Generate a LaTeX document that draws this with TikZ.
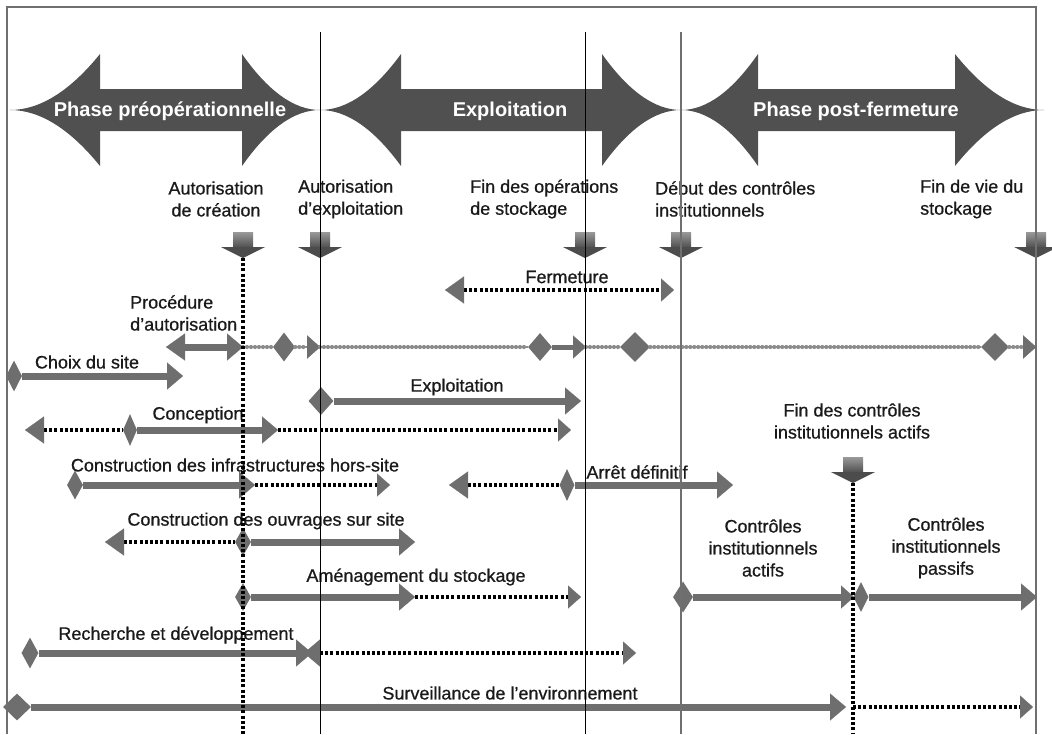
\documentclass[tikz,border=0pt]{standalone}
\usepackage{fontspec}
\setmainfont{Liberation Sans}
\newfontfamily\lblfont{Liberation Sans}[FakeBold=0.7]
\usetikzlibrary{arrows.meta,shapes.geometric}

\definecolor{phasegray}{HTML}{505050}
\definecolor{bargray}{HTML}{6E6E6E}
\definecolor{beadgray}{HTML}{8C8C8C}
\definecolor{framegray}{HTML}{707070}
\definecolor{msgray}{HTML}{4C4C4C}
\definecolor{mstop}{HTML}{9A9A9A}
\definecolor{txtgray}{HTML}{1A1A1A}

\tikzset{
  bt/.tip={Triangle[length=16pt,width=27pt,color=bargray,line width=0.1pt]},
  lt/.tip={Triangle[length=19pt,width=27pt,color=bargray,line width=0.1pt]},
  st/.tip={Triangle[length=13pt,width=23pt,color=bargray,line width=0.1pt]},
  bar/.style={draw=bargray, line width=7pt},
  dotline/.style={draw=black, line width=3.2pt, dash pattern=on 3pt off 2.2pt},
  beadline/.style={draw=beadgray, line width=1.8pt,
    postaction={draw=beadgray, line width=4.2pt, line cap=round, dash pattern=on 0pt off 4pt}},
  dmd/.style={diamond, fill=bargray, inner sep=0pt, minimum width=16pt, minimum height=30pt},
  lbl/.style={inner sep=0pt, text=txtgray, font=\lblfont\fontsize{18}{22}\selectfont},
  phase/.style={inner sep=0pt, text=white, font=\bfseries\fontsize{20}{24}\selectfont},
  vline/.style={draw=black, line width=1pt},
  gline/.style={draw=framegray, line width=1.8pt},
  dline/.style={draw=black, line width=3.2pt, dash pattern=on 3pt off 2.2pt},
  milestone/.pic={
    \shade[top color=mstop, bottom color=msgray] (-10,-26) rectangle (10,-10);
    \fill[msgray] (-22,-11) -- (22,-11) -- (0,0) -- cycle;
  }
}

% double arrow with flared heads: left tip, left base, right base, right tip
\newcommand{\phasearrow}[4]{%
  \fill[phasegray] (#1,110)
    .. controls ({#1+(#2-#1)/3},110) and ({#2-(#2-#1)/3},91) .. (#2,54)
    -- (#2,89) -- (#3,89) -- (#3,54)
    .. controls ({#3+(#4-#3)/3},91) and ({#4-(#4-#3)/3},110) .. (#4,110)
    .. controls ({#4-(#4-#3)/3},110) and ({#3+(#4-#3)/3},129) .. (#3,166)
    -- (#3,131) -- (#2,131) -- (#2,166)
    .. controls ({#2-(#2-#1)/3},129) and ({#1+(#2-#1)/3},110) .. cycle;}

\begin{document}
\begin{tikzpicture}[x=1pt, y=-1pt]
    \useasboundingbox (0,0) rectangle (1052,734);

    % Phases
    \phasearrow{10}{100}{242}{320}
    \phasearrow{320}{401}{602}{681}
    \phasearrow{681}{758}{955}{1044}
    \node[phase] (ph1) at (170,111) {Phase préopérationnelle};
    \node[phase] (ph2) at (510,111) {Exploitation};
    \node[phase] (ph3) at (856,111) {Phase post-fermeture};

    % Milestones
    \coordinate (m1) at (243,258);
    \coordinate (m2) at (320,258);
    \coordinate (m3) at (585,258);
    \coordinate (m4) at (681,258);
    \coordinate (m5) at (1036,258);
    \coordinate (m6) at (853,483);
    \foreach \m in {m1,m2,m3,m4,m5,m6} \pic at (\m) {milestone};
    \node[lbl, align=center] (l1) at (216,199) {Autorisation\\de création};
    \node[lbl, align=left, anchor=west] (l2) at (298,199) {Autorisation\\d’exploitation};
    \node[lbl, align=left, anchor=west] (l3) at (470,199) {Fin des opérations\\de stockage};
    \node[lbl, align=left, anchor=west] (l4) at (655,199) {Début des contrôles\\institutionnels};
    \node[lbl, align=left, anchor=west] (l5) at (920,199) {Fin de vie du\\stockage};
    \node[lbl, align=center] (l6) at (852,421) {Fin des contrôles\\institutionnels actifs};

    % Fermeture
    \coordinate (fe0) at (445,290);
    \coordinate (fe1) at (674,290);
    \draw[dotline, lt-st] (fe0) -- (fe1);
    \node[lbl] (fe) at (567,277) {Fermeture};

    % Procedure d'autorisation
    \coordinate (pa0) at (166,347);
    \coordinate (pa1) at (243,347);
    \coordinate (pa2) at (320,347);
    \coordinate (pa4) at (586,347);
    \coordinate (pa6) at (1036,347);
    \node[dmd, minimum width=22pt, minimum height=29pt] (pd1) at (284,347) {};
    \node[dmd, minimum width=24pt, minimum height=28pt] (pd2) at (540,347) {};
    \node[dmd, minimum width=30pt, minimum height=30pt] (pd3) at (635,347) {};
    \node[dmd, minimum width=28pt, minimum height=28pt] (pd4) at (995,347) {};
    \draw[bar, lt-bt] (pa0) -- (pa1);
    \draw[beadline] (pa1) -- (pd1);
    \draw[beadline, -st] (pd1) -- (pa2);
    \draw[beadline] (pa2) -- (pd2);
    \draw[bar, line width=5pt, -st] (pd2) -- (pa4);
    \draw[beadline] (pa4) -- (pd3);
    \draw[beadline] (pd3) -- (pd4);
    \draw[beadline, -st] (pd4) -- (pa6);
    \node[lbl, align=left, anchor=west] (pa) at (130,313) {Procédure\\d’autorisation};

    % Choix du site
    \node[dmd, minimum height=31pt] (cs0) at (14,376) {};
    \coordinate (cs1) at (183,376);
    \draw[bar, -bt] (cs0) -- (cs1);
    \node[lbl] (cs) at (87,362) {Choix du site};

    % Exploitation
    \node[dmd, minimum width=25pt, minimum height=28pt] (ex0) at (321,401) {};
    \coordinate (ex1) at (581,401);
    \draw[bar, -bt] (ex0) -- (ex1);
    \node[lbl] (ex) at (457,387) {Exploitation};

    % Conception
    \coordinate (cn0) at (25,430);
    \node[dmd, minimum width=14pt, minimum height=32pt] (cnd) at (130,430) {};
    \coordinate (cn1) at (278,430);
    \coordinate (cn2) at (571,430);
    \draw[dotline, lt-] (cn0) -- (cnd);
    \draw[bar, -bt] (cnd) -- (cn1);
    \draw[dotline, -st] (cn1) -- (cn2);
    \node[lbl] (cn) at (198,415) {Conception};

    % Construction des infrastructures hors-site
    \node[dmd, minimum height=29pt] (ci0) at (75,485) {};
    \coordinate (ci1) at (255,485);
    \coordinate (ci2) at (390,485);
    \draw[bar, -bt] (ci0) -- (ci1);
    \draw[dotline, -st] (ci1) -- (ci2);
    \node[lbl] (ci) at (235,465) {Construction des infrastructures hors-site};

    % Arret definitif
    \coordinate (ar0) at (449,485);
    \node[dmd, minimum width=15pt, minimum height=32pt] (ard) at (567,485) {};
    \coordinate (ar1) at (733,485);
    \draw[dotline, lt-] (ar0) -- (ard);
    \draw[bar, -bt] (ard) -- (ar1);
    \node[lbl] (ar) at (637,472) {Arrêt définitif};

    % Construction des ouvrages sur site
    \coordinate (co0) at (105,542);
    \node[dmd, minimum height=28pt] (cod) at (243,542) {};
    \coordinate (co1) at (415,542);
    \draw[dotline, lt-] (co0) -- (cod);
    \draw[bar, -bt] (cod) -- (co1);
    \node[lbl] (co) at (266,521) {Construction des ouvrages sur site};

    % Amenagement du stockage
    \node[dmd, minimum height=28pt] (am0) at (243,597) {};
    \coordinate (am1) at (415,597);
    \coordinate (am2) at (581,597);
    \draw[bar, -bt] (am0) -- (am1);
    \draw[dotline, -st] (am1) -- (am2);
    \node[lbl] (am) at (416,577) {Aménagement du stockage};

    % Controles institutionnels
    \node[dmd, minimum width=20pt, minimum height=31pt] (ca0) at (683,597) {};
    \coordinate (ca1) at (854,597);
    \node[dmd, minimum width=15pt, minimum height=30pt] (cp0) at (861,597) {};
    \coordinate (cp1) at (1037,597);
    \draw[bar, -st] (ca0) -- (ca1);
    \draw[bar, -bt] (cp0) -- (cp1);
    \node[lbl, align=center] (ca) at (763,548) {Contrôles\\institutionnels\\actifs};
    \node[lbl, align=center] (cp) at (946,548) {Contrôles\\institutionnels\\passifs};

    % Recherche et developpement
    \node[dmd, minimum width=17pt, minimum height=31pt] (rd0) at (30,653) {};
    \coordinate (rd1) at (312,653);
    \coordinate (rd2) at (304,653);
    \coordinate (rd3) at (636,653);
    \draw[bar, -bt] (rd0) -- (rd1);
    \draw[dotline, bt-st] (rd2) -- (rd3);
    \node[lbl] (rd) at (176,635) {Recherche et développement};

    % Surveillance de l'environnement
    \node[dmd, minimum width=28pt, minimum height=27pt] (sv0) at (17,707) {};
    \coordinate (sv1) at (846,707);
    \coordinate (sv2) at (853,707);
    \coordinate (sv3) at (1033,707);
    \draw[bar, -bt] (sv0) -- (sv1);
    \draw[dotline, -st] (sv2) -- (sv3);
    \node[lbl] (sv) at (510,693) {Surveillance de l’environnement};

    % Time lines and frame
    \coordinate (tl) at (7,7);
    \coordinate (tr) at (1036,7);
    \coordinate (bl) at (7,734);
    \coordinate (br) at (1036,734);
    \coordinate (tx1) at (320,32);
    \coordinate (tx2) at (585,32);
    \coordinate (tx3) at (681,32);
    \draw[vline] (tx1) -- (tx1 |- bl);
    \draw[vline] (tx2) -- (tx2 |- bl);
    \draw[gline, line width=1.4pt] (tx3) -- (tx3 |- bl);
    \draw[dline] (m1) -- (m1 |- bl);
    \draw[dline] (m6) -- (m6 |- bl);
    \draw[gline] (bl) -- (tl) -- (tr) -- (br);
\end{tikzpicture}
\end{document}
